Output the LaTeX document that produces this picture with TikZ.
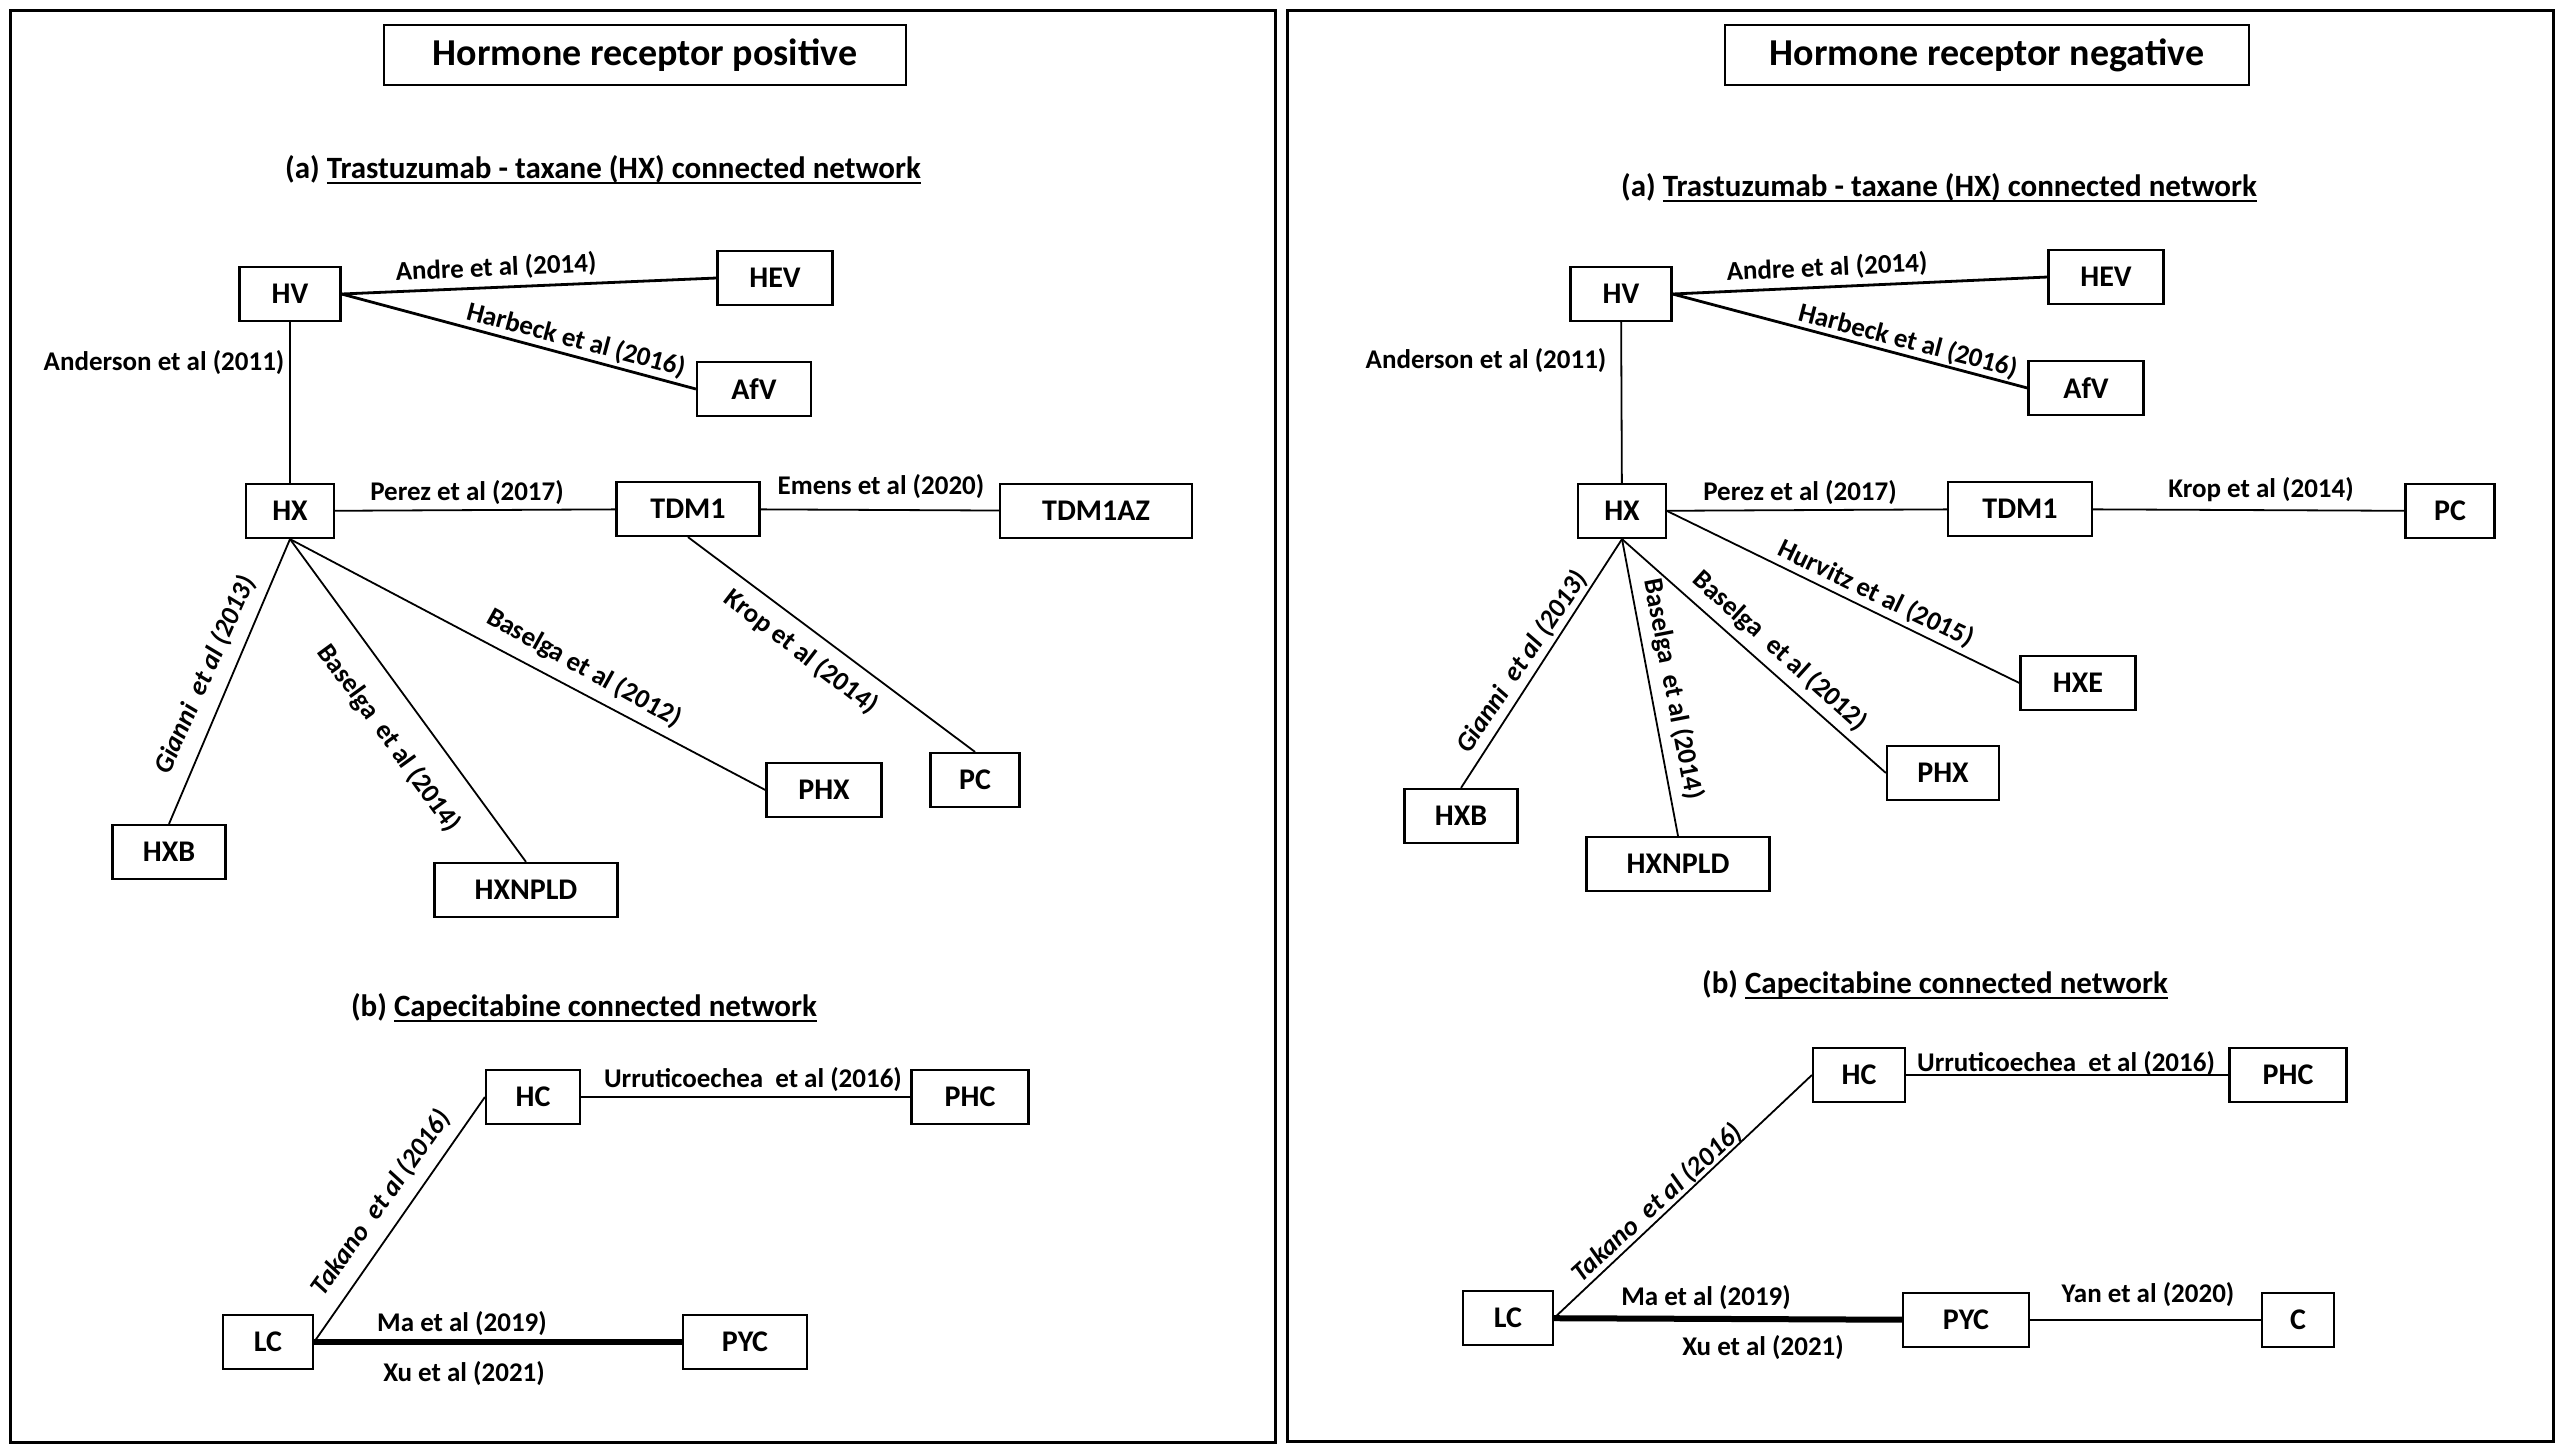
\documentclass[tikz,border=0pt]{standalone}
\usepackage{fontspec}
\setmainfont{Carlito}
\newsavebox{\ulbox}
\newcommand{\myul}[1]{\sbox{\ulbox}{#1}\leavevmode\rlap{\rule[-2.6pt]{\wd\ulbox}{1.1pt}}\usebox{\ulbox}}
\begin{document}
\begin{tikzpicture}[x=0.5pt,y=-0.5pt,
  panel/.style={draw, line width=1.5pt},
  nbox/.style={draw, line width=1.1pt, minimum width=#1, minimum height=27pt, inner sep=0pt, font=\bfseries\fontsize{15}{18}\selectfont},
  titlebox/.style={draw, line width=1.3pt, minimum width=#1, minimum height=30pt, inner sep=0pt, font=\bfseries\fontsize{19}{22}\selectfont},
  subtitle/.style={font=\bfseries\fontsize{15.5}{18}\selectfont, inner sep=0pt},
  lab/.style={font=\bfseries\fontsize{13.5}{16}\selectfont, inner sep=0pt},
  labit/.style={font=\bfseries\itshape\fontsize{13.5}{16}\selectfont, inner sep=0pt},
  conn/.style={line width=0.9pt},
  connb/.style={line width=1.4pt},
  heavy/.style={line width=3pt}]
\fill[white] (0,0) rectangle (2559,1453);
\useasboundingbox (0,0) rectangle (2559,1453);

% panels
\draw[panel] (10,10) rectangle (1275,1442);
\draw[panel] (1287,10) rectangle (2553,1441);

% ---------------- left panel ----------------
\node[titlebox=261pt] (t1) at (645,55) {Hormone receptor positive};
\node[subtitle] (s1a) at (603,170) {(a) \myul{Trastuzumab - taxane (HX) connected network}};
\node[nbox=50.5pt] (hv1) at (290,294) {HV};
\node[nbox=57.5pt] (hev1) at (775,278) {HEV};
\node[nbox=57pt] (afv1) at (754,389) {AfV};
\node[nbox=44pt] (hx1) at (290,511) {HX};
\node[nbox=71.5pt] (tdm1) at (688,509) {TDM1};
\node[nbox=96pt] (tdmaz1) at (1096,511) {TDM1AZ};
\node[nbox=44.5pt] (pc1) at (975,780) {PC};
\node[nbox=57.5pt] (phx1) at (824,790) {PHX};
\node[nbox=56.5pt] (hxb1) at (169,852) {HXB};
\node[nbox=91.5pt] (hxn1) at (526,890) {HXNPLD};
\node[subtitle] (s1b) at (584,1008) {(b) \myul{Capecitabine connected network}};
\node[nbox=47pt] (hc1) at (533,1097) {HC};
\node[nbox=58.5pt] (phc1) at (970,1097) {PHC};
\node[nbox=45pt] (lc1) at (268,1342) {LC};
\node[nbox=62pt] (pyc1) at (745,1342) {PYC};

\draw[connb] (hv1.east) -- (hev1.west);
\draw[connb] (hv1.east) -- (afv1.west);
\draw[conn] (hv1) -- (hx1);
\draw[conn] (hx1) -- (tdm1);
\draw[conn] (tdm1) -- (tdmaz1);
\draw[conn] (hx1.south) -- (hxb1.north);
\draw[conn] (hx1.south) -- (hxn1.north);
\draw[conn] (hx1.south) -- (phx1.west);
\draw[conn] (tdm1.south) -- (pc1.north);
\draw[conn] (hc1) -- (phc1);
\draw[heavy] (lc1) -- (pyc1);
\draw[conn] (lc1.east) -- (hc1.west);

\node[lab, rotate=2.6] (l1a) at (496,268) {Andre et al (2014)};
\node[lab, rotate=-14.8] (l1b) at (576,340) {Harbeck et al (2016)};
\node[lab] (l1c) at (164,363) {Anderson et al (2011)};
\node[lab] (l1d) at (467,493) {Perez et al (2017)};
\node[lab] (l1e) at (881,487) {Emens et al (2020)};
\node[lab, rotate=-37.5] (l1f) at (801,652) {Krop et al (2014)};
\node[labit, rotate=66] (l1g) at (205,675) {Gianni\ \ et al (2013)};
\node[lab, rotate=-54] (l1h) at (389,738) {Baselga\ \ et al (2014)};
\node[lab, rotate=-29] (l1i) at (584,668) {Baselga et al (2012)};
\node[labit, rotate=54.5] (l1j) at (381,1203) {Takano\ \ et al (2016)};
\node[lab] (l1k) at (753,1080) {Urruticoechea\ \ et al (2016)};
\node[lab] (l1l) at (462,1323) {Ma et al (2019)};
\node[lab] (l1m) at (464,1373) {Xu et al (2021)};

% ---------------- right panel ----------------
\node[titlebox=262pt] (t2) at (1987,55) {Hormone receptor negative};
\node[subtitle] (s2a) at (1939,188) {(a) \myul{Trastuzumab - taxane (HX) connected network}};
\node[nbox=50.5pt] (hv2) at (1621,294) {HV};
\node[nbox=57.5pt] (hev2) at (2106,277) {HEV};
\node[nbox=57.5pt] (afv2) at (2086,388) {AfV};
\node[nbox=44pt] (hx2) at (1622,511) {HX};
\node[nbox=72pt] (tdm2) at (2020,509) {TDM1};
\node[nbox=44.5pt] (pc2) at (2450,511) {PC};
\node[nbox=57.5pt] (hxe2) at (2078,683) {HXE};
\node[nbox=56.5pt] (hxb2) at (1461,816) {HXB};
\node[nbox=91.5pt] (hxn2) at (1678,864) {HXNPLD};
\node[nbox=56pt] (phx2) at (1943,773) {PHX};
\node[subtitle] (s2b) at (1935,985) {(b) \myul{Capecitabine connected network}};
\node[nbox=46pt] (hc2) at (1859,1075) {HC};
\node[nbox=58.5pt] (phc2) at (2288,1075) {PHC};
\node[nbox=45pt] (lc2) at (1508,1318) {LC};
\node[nbox=63pt] (pyc2) at (1966,1320) {PYC};
\node[nbox=36pt] (c2) at (2298,1320) {C};

\draw[connb] (hv2.east) -- (hev2.west);
\draw[connb] (hv2.east) -- (afv2.west);
\draw[conn] (hv2) -- (hx2);
\draw[conn] (hx2) -- (tdm2);
\draw[conn] (tdm2) -- (pc2);
\draw[conn] (hx2.east) -- (hxe2.west);
\draw[conn] (hx2.south) -- (hxb2.north);
\draw[conn] (hx2.south) -- (hxn2.north);
\draw[conn] (hx2.south) -- (phx2.west);
\draw[conn] (lc2.east) -- (hc2.west);
\draw[conn] (hc2) -- (phc2);
\draw[heavy] (lc2) -- (pyc2);
\draw[conn] (pyc2) -- (c2);

\node[lab, rotate=2.7] (l2a) at (1827,268) {Andre et al (2014)};
\node[lab, rotate=-14.7] (l2b) at (1908,341) {Harbeck et al (2016)};
\node[lab] (l2c) at (1486,361) {Anderson et al (2011)};
\node[lab] (l2d) at (1800,493) {Perez et al (2017)};
\node[lab] (l2e) at (2261,490) {Krop et al (2014)};
\node[lab, rotate=-25.7] (l2f) at (1876,594) {Hurvitz et al (2015)};
\node[labit, rotate=56] (l2g) at (1522,662) {Gianni\ \ et al (2013)};
\node[lab, rotate=-79] (l2h) at (1673,689) {Baselga\ \ et al (2014)};
\node[lab, rotate=-42] (l2i) at (1780,651) {Baselga\ \ et al (2012)};
\node[labit, rotate=42.5] (l2j) at (1657,1203) {Takano\ \ et al (2016)};
\node[lab] (l2k) at (2066,1064) {Urruticoechea\ \ et al (2016)};
\node[lab] (l2l) at (1706,1297) {Ma et al (2019)};
\node[lab] (l2m) at (1763,1347) {Xu et al (2021)};
\node[lab] (l2n) at (2148,1295) {Yan et al (2020)};
\end{tikzpicture}
\end{document}
